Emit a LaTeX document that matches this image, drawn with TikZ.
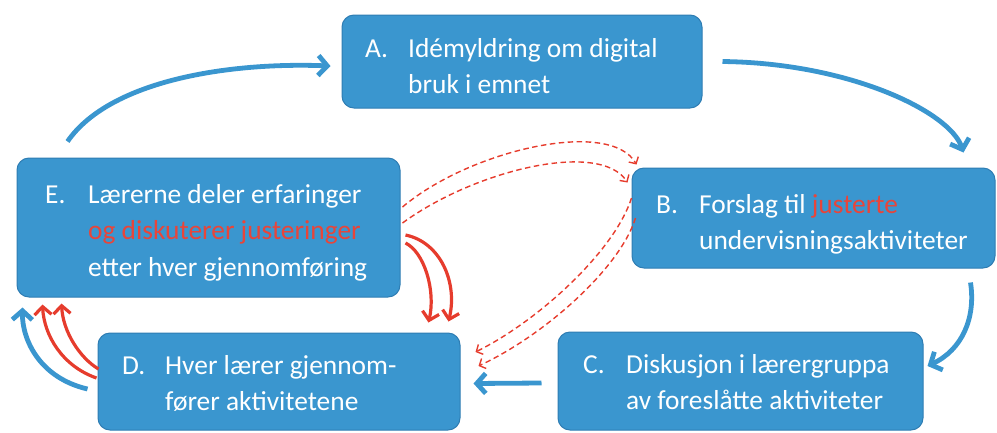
\documentclass[tikz,border=0pt]{standalone}
\usepackage{fontspec}
\setmainfont{Carlito}
\usetikzlibrary{arrows.meta,calc}
\definecolor{boxblue}{HTML}{3A96CF}
\definecolor{boxedge}{HTML}{2E7DB3}
\definecolor{arrred}{HTML}{E63C2D}
\definecolor{txtred}{HTML}{E8453A}
\tikzset{
 stagebox/.style={draw=boxedge, line width=1pt, fill=boxblue, rounded corners=12pt, inner sep=0pt},
 stagetext/.style={anchor=base west, inner sep=0pt, text=white, font=\fontsize{27.4}{36.5}\selectfont},
 bluearrow/.style={draw=boxblue, line width=4.8pt, -{Straight Barb[length=9pt,width=20pt]}},
 redarrow/.style={draw=arrred, line width=3.2pt, -{Straight Barb[length=8pt,width=17pt]}},
 dasharrow/.style={draw=arrred, line width=1.4pt, dash pattern=on 5.5pt off 3.5pt, -{Straight Barb[length=5pt,width=11pt]}},
}
\newcommand\stagelbl[1]{\makebox[43pt][l]{#1}}
\begin{document}
\begin{tikzpicture}[x=1pt,y=-1pt]
\useasboundingbox (0,0) rectangle (997,432);
% boxes
\node[stagebox, minimum width=360pt, minimum height=93pt] (A) at (522,61.5) {};
\node[stagebox, minimum width=363pt, minimum height=100pt] (B) at (813.5,218) {};
\node[stagebox, minimum width=365pt, minimum height=98pt] (C) at (740.5,381) {};
\node[stagebox, minimum width=362pt, minimum height=97pt] (D) at (279,381.5) {};
\node[stagebox, minimum width=383pt, minimum height=139pt] (E) at (208.5,227.5) {};
% texts
\node[stagetext] (At) at (365,57) {\begin{tabular}[t]{@{}l@{}l@{}}\stagelbl{A.}&Idémyldring om digital\\ &bruk i emnet\end{tabular}};
\node[stagetext] (Bt) at (656,213) {\begin{tabular}[t]{@{}l@{}l@{}}\stagelbl{B.}&Forslag til \textcolor{txtred}{justerte}\\ &undervisningsaktiviteter\end{tabular}};
\node[stagetext] (Ct) at (583,373) {\begin{tabular}[t]{@{}l@{}l@{}}\stagelbl{C.}&Diskusjon i lærergruppa\\ &av foreslåtte aktiviteter\end{tabular}};
\node[stagetext] (Dt) at (122,374) {\begin{tabular}[t]{@{}l@{}l@{}}\stagelbl{D.}&Hver lærer gjennom-\\ &fører aktivitetene\end{tabular}};
\node[stagetext] (Et) at (45,203) {\begin{tabular}[t]{@{}l@{}l@{}}\stagelbl{E.}&Lærerne deler erfaringer\\ &\textcolor{txtred}{og diskuterer justeringer}\\ &etter hver gjennomføring\end{tabular}};
% blue cycle arrows
\draw[bluearrow] ($(E.north west)+(51,-16)$) .. controls (110,80) and (230,62) .. ($(A.west)+(-11,4.5)$);
\draw[bluearrow] ($(A.east)+(20,0)$) .. controls (850,63) and (950,112) .. ($(B.north east)+(-32,-15)$);
\draw[bluearrow] ($(B.south east)+(-25,14)$) .. controls (976,318) and (962,350) .. ($(C.east)+(4,-15)$);
\draw[bluearrow] ($(C.west)+(-16,2)$) -- ($(D.east)+(13,2)$);
\draw[bluearrow] ($(D.west)+(-10,7.5)$) .. controls (40,378) and (22,340) .. ($(E.south west)+(6,10)$);
% red solid arrows D -> E
\draw[redarrow] ($(D.west)+(-1,-3.5)$) .. controls (62,366) and (44,335) .. ($(E.south west)+(26,7)$);
\draw[redarrow] ($(D.west)+(1,-12.5)$) .. controls (80,358) and (63,332) .. ($(E.south west)+(45,6)$);
% red solid arrows E -> D
\draw[redarrow] ($(E.east)+(5,7.5)$) .. controls (440,242) and (458,282) .. ($(D.north east)+(-12,-11)$);
\draw[redarrow] ($(E.east)+(5,15.5)$) .. controls (424,252) and (436,290) .. ($(D.north east)+(-32,-10)$);
% red dashed arrows E -> B
\draw[dasharrow] ($(E.east)+(2,-20.5)$) .. controls (470,150) and (610,118) .. ($(B.north west)+(5,-3)$);
\draw[dasharrow] ($(E.east)+(2,-4.5)$) .. controls (475,170) and (600,140) .. ($(B.north west)+(-4,15)$);
% red dashed arrows B -> D
\draw[dasharrow] ($(B.west)+(0,-20)$) .. controls (615,250) and (540,320) .. ($(D.east)+(15,-29.5)$);
\draw[dasharrow] ($(B.west)+(4,0)$) .. controls (620,268) and (545,335) .. ($(D.east)+(18,-15.5)$);
\end{tikzpicture}
\end{document}
